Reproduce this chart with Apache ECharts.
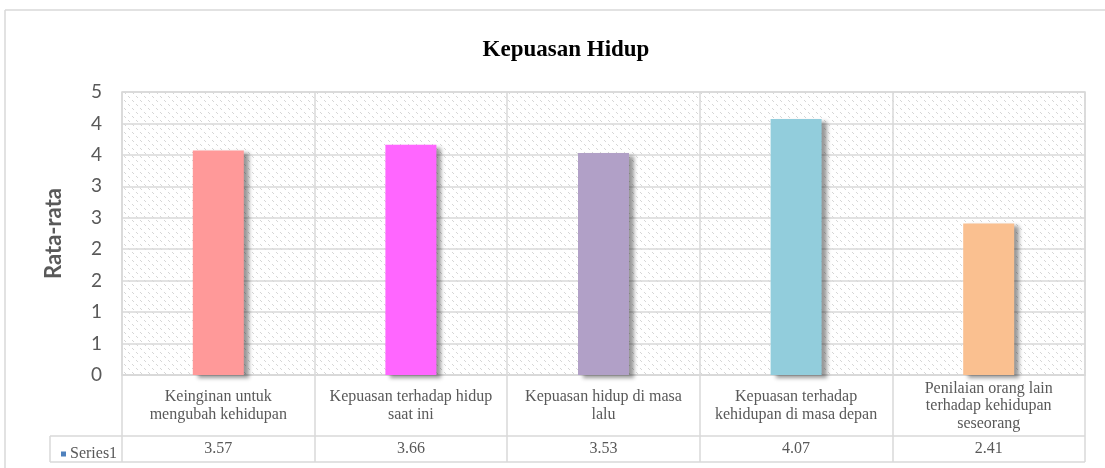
<!DOCTYPE html>
<html>
<head>
<meta charset="utf-8">
<script src="https://cdn.jsdelivr.net/npm/echarts@6/dist/echarts.min.js"></script>
<style>
html, body { margin: 0; padding: 0; background: #fff; }
#chart { width: 1105px; height: 468px; }
</style>
</head>
<body>
<div id="chart"></div>
<script>
// data
var categories = [
  'Keinginan untuk\nmengubah kehidupan',
  'Kepuasan terhadap hidup\nsaat ini',
  'Kepuasan hidup di masa\nlalu',
  'Kepuasan terhadap\nkehidupan di masa depan',
  'Penilaian orang lain\nterhadap kehidupan\nseseorang'
];
var values = [3.57, 3.66, 3.53, 4.07, 2.41];
var seriesName = 'Series1';

var barColors = ['#FF9999', '#FF66FF', '#B1A0C7', '#92CDDC', '#FAC090'];
var gridColor = '#d9d9d9';
var textColor = '#595959';

// hatched background like the excel pattern fill
function makePattern() {
  var c = document.createElement('canvas');
  c.width = 8; c.height = 8;
  var ctx = c.getContext('2d');
  ctx.fillStyle = '#ffffff';
  ctx.fillRect(0, 0, 8, 8);
  ctx.fillStyle = '#d6d6d6';
  for (var i = 0; i < 8; i++) {
    if (i % 4 < 2) ctx.fillRect(i, i, 1, 1);
  }
  return c;
}

var myChart = echarts.init(document.getElementById('chart'));

var option = {
  animation: false,
  title: {
    text: 'Kepuasan Hidup',
    left: 561,
    top: 34,
    textAlign: 'center',
    textStyle: {
      fontFamily: 'Liberation Serif',
      fontWeight: 'bold',
      fontSize: 23,
      color: '#000'
    }
  },
  legend: {
    data: [seriesName],
    left: 56,
    top: 441,
    icon: 'rect',
    itemWidth: 5,
    itemHeight: 5,
    itemGap: 4,
    itemStyle: { borderWidth: 0, shadowBlur: 0, shadowOffsetX: 0, shadowOffsetY: 0 },
    textStyle: {
      fontFamily: 'Liberation Serif',
      fontSize: 16,
      color: textColor,
      padding: [0, 0, 0, -1]
    }
  },
  grid: {
    left: 122,
    right: 20,
    top: 92,
    bottom: 93,
    show: true,
    backgroundColor: { image: makePattern(), repeat: 'repeat' },
    borderColor: gridColor,
    borderWidth: 1.5
  },
  xAxis: [
    {
      type: 'category',
      data: categories,
      position: 'bottom',
      axisLine: { show: true, lineStyle: { color: gridColor, width: 1.5 } },
      axisTick: { show: true, length: 87, interval: 0, lineStyle: { color: gridColor, width: 1.5 } },
      splitLine: { show: true, interval: 0, lineStyle: { color: gridColor, width: 1.5 } },
      axisLabel: {
        interval: 0,
        margin: 31,
        verticalAlign: 'middle',
        lineHeight: 17.5,
        fontFamily: 'Liberation Serif',
        fontSize: 16,
        color: textColor
      }
    },
    {
      type: 'category',
      data: values.map(function (v) { return v.toFixed(2); }),
      position: 'bottom',
      offset: 61,
      axisLine: { show: false },
      axisTick: { show: false },
      splitLine: { show: false },
      axisLabel: {
        interval: 0,
        margin: 13,
        verticalAlign: 'middle',
        fontFamily: 'Liberation Serif',
        fontSize: 16,
        color: textColor
      }
    }
  ],
  yAxis: {
    type: 'value',
    min: 0,
    max: 4.5,
    interval: 0.5,
    name: 'Rata-rata',
    nameLocation: 'middle',
    nameGap: 57,
    nameTextStyle: {
      fontFamily: 'Lato',
      fontWeight: 'bold',
      fontSize: 22,
      color: textColor
    },
    axisLine: { show: false },
    axisTick: { show: false },
    splitLine: { show: true, lineStyle: { color: gridColor, width: 1.5 } },
    axisLabel: {
      margin: 20,
      fontFamily: 'Lato',
      fontSize: 19,
      color: textColor,
      formatter: function (v) { return String(Math.round(v)); }
    }
  },
  series: [
    {
      name: seriesName,
      type: 'bar',
      barWidth: 51,
      itemStyle: { color: '#4F81BD' },
      data: values.map(function (v, i) {
        return {
          value: v,
          itemStyle: {
            color: barColors[i],
            borderWidth: 0,
            shadowColor: 'rgba(0,0,0,0.4)',
            shadowBlur: 4,
            shadowOffsetX: 5,
            shadowOffsetY: 3
          }
        };
      })
    }
  ],
  graphic: [
    // outer frame
    { type: 'line', shape: { x1: 5, y1: 10, x2: 1105, y2: 10 }, style: { stroke: gridColor, lineWidth: 1.5 } },
    { type: 'line', shape: { x1: 5, y1: 10, x2: 5, y2: 468 }, style: { stroke: gridColor, lineWidth: 1.5 } },
    // data table rows
    { type: 'line', shape: { x1: 50, y1: 436, x2: 1085, y2: 436 }, style: { stroke: gridColor, lineWidth: 1.5 } },
    { type: 'line', shape: { x1: 50, y1: 462, x2: 1085, y2: 462 }, style: { stroke: gridColor, lineWidth: 1.5 } },
    { type: 'line', shape: { x1: 50, y1: 436, x2: 50, y2: 462 }, style: { stroke: gridColor, lineWidth: 1.5 } }
  ]
};

myChart.setOption(option);
</script>
</body>
</html>
